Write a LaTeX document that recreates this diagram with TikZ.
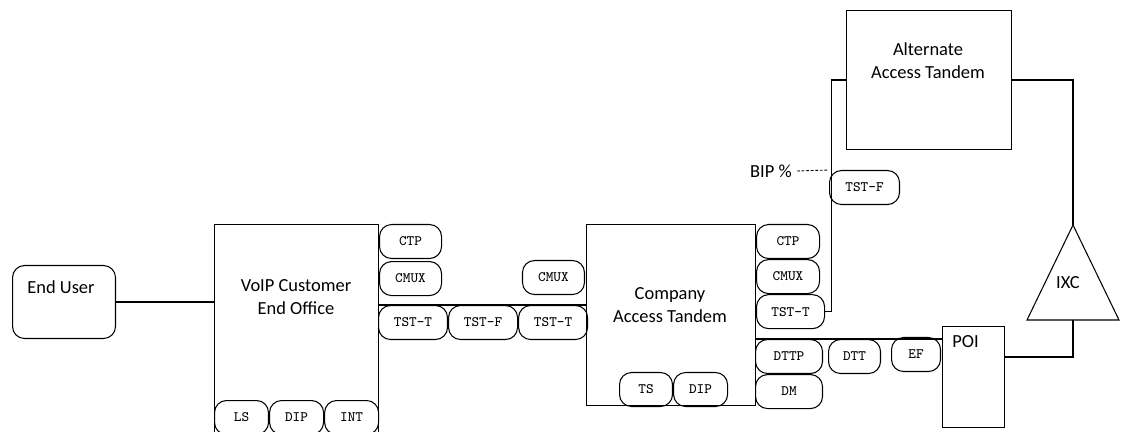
\documentclass[tikz,border=0pt]{standalone}
\usepackage{fontspec}
\setmainfont{Carlito}
\usetikzlibrary{positioning,shapes.geometric}

\begin{document}
\begin{tikzpicture}[
  x=0.02cm,y=-0.02cm,line width=0.6pt,
  office/.style={draw,rectangle,inner sep=0pt,anchor=north west},
  label/.style={font=\fontsize{10.5}{13}\selectfont,align=center,inner sep=1pt},
  pill/.style={draw,rounded corners=0.24cm,minimum height=0.68cm,minimum width=1.24cm,inner sep=1pt,font=\ttfamily\fontsize{8.2}{9}\selectfont},
  wide/.style={minimum width=1.38cm},
  narrow/.style={minimum width=1.08cm}
]
\useasboundingbox (0,0) rectangle (1123,432);

% end user and the three offices
\node[office,rounded corners=0.24cm,minimum width=2.06cm,minimum height=1.46cm] (user) at (12,265) {};
\node[label] (usertxt) at (61,287) {End User};
\node[office,minimum width=3.28cm,minimum height=4.6cm] (voip) at (214,224) {};
\node[label] (voiptxt) at (296,297) {VoIP Customer\\End Office};
\node[office,minimum width=3.38cm,minimum height=3.62cm] (cat) at (586,224) {};
\node[label] (cattxt) at (670,305) {Company\\Access Tandem};
\node[office,minimum width=3.3cm,minimum height=2.78cm] (alt) at (846,10) {};
\node[label] (alttxt) at (928,61) {Alternate\\Access Tandem};
\node[office,minimum width=1.24cm,minimum height=2.02cm] (poi) at (942,326) {};
\node[label,anchor=north west] (poitxt) at (950,333) {POI};

% IXC
\coordinate (ixcTop) at (1073,225);
\coordinate (ixcBase) at (1073,320);
\draw (ixcTop) -- (1119,320) -- (1027,320) -- cycle;
\node[label] (ixctxt) at (1068,283) {IXC};

% pills of the end office
\node[pill,anchor=north west] (voipCTP) at (voip.north east) {CTP};
\node[pill,below=0.04cm of voipCTP] (voipCMUX) {CMUX};
\node[pill,wide,anchor=north west] (voipTT) at (378,305) {TST-T};
\node[pill,wide,right=0pt of voipTT] (midTF) {TST-F};
\node[pill,wide,right=0pt of midTF] (catTTin) {TST-T};
\node[pill,anchor=north east] (catCMUXin) at (585,260) {CMUX};
\node[pill,narrow,anchor=north west] (voipLS) at (214,400) {LS};
\node[pill,narrow,right=0pt of voipLS] (voipDIP) {DIP};
\node[pill,narrow,right=0pt of voipDIP] (voipINT) {INT};

% pills of the access tandem
\node[pill,minimum width=1.26cm,anchor=north west] (catCTP) at (cat.north east) {CTP};
\node[pill,minimum width=1.26cm,below=0pt of catCTP.south west,anchor=north west] (catCMUX) {CMUX};
\node[pill,minimum width=1.36cm,below=0pt of catCMUX.south west,anchor=north west] (catTT) {TST-T};
\node[pill,minimum width=1.34cm,anchor=north west] (catDTTP) at (755,339) {DTTP};
\node[pill,minimum width=1.34cm,below=0pt of catDTTP] (catDM) {DM};
\node[pill,minimum width=1.04cm,anchor=north west] (catDTT) at (828,339) {DTT};
\node[pill,minimum width=0.98cm,anchor=north west] (catEF) at (891,337) {EF};
\node[pill,minimum width=1.06cm,anchor=north west] (catTS) at (619,372) {TS};
\node[pill,narrow,right=0pt of catTS] (catDIP) {DIP};

% alternate route
\node[pill,minimum width=1.4cm,anchor=north west] (altTF) at (829,170) {TST-F};
\node[label,anchor=east] (bip) at (794,171) {BIP \%};

% connectors
\draw (user.east) -- (user.east -| voip.west);
\draw (voipTT.north west) -- (voipTT.north west -| cat.west);
\draw (catTT.east) -- ++(6,0) |- (alt.west);
\draw[dash pattern=on 1.6pt off 1pt,line width=0.5pt] (bip.east) ++(3,0) -- (altTF.north west);
\draw (catDTTP.north west) -- (catDTTP.north west -| poi.west);
\draw (alt.east) -| (ixcTop);
\coordinate (poiOut) at (1004,357);
\draw (poiOut) -| (ixcBase);
\end{tikzpicture}
\end{document}
